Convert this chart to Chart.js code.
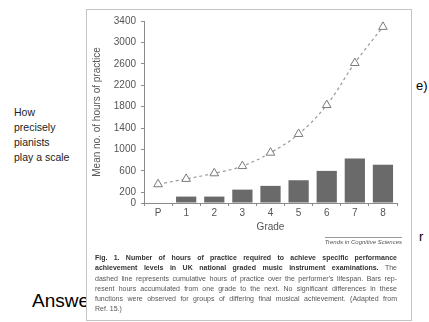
<!DOCTYPE html>
<html lang="en">
<head>
<meta charset="UTF-8">
<title>Practice hours</title>
<script src="https://cdn.jsdelivr.net/npm/chart.js"></script>
<style>
    body { margin: 0; width: 429px; height: 322px; overflow: hidden; background: #fff; font-family: "Liberation Sans", Arial, sans-serif; position: relative; }
    .side { position: absolute; left: 14px; top: 105px; font-size: 10.5px; line-height: 15px; color: #222; }
    .ans { position: absolute; left: 32px; top: 290px; font-size: 19px; color: #000; }
    .e { position: absolute; left: 416px; top: 78px; font-size: 13px; color: #000; }
    .r { position: absolute; left: 419px; top: 229px; font-size: 13px; color: #000; }
    .card { position: absolute; left: 86px; top: 9px; width: 326px; height: 312px; box-sizing: border-box; border: 1px solid #c4c4c4; background: #fff; }
    #grafico { position: absolute; left: 0; top: 0; }
    .journal { position: absolute; right: 9px; top: 227px; font-size: 6px; font-style: italic; color: #555; border-top: 1px solid #999; padding-top: 1px; }
    .caption { position: absolute; left: 8px; top: 243px; width: 302px; font-size: 7px; line-height: 10.3px; color: #555; }
    .caption div { white-space: nowrap; text-align: justify; text-align-last: justify; }
    .caption div.last { text-align-last: left; }
    .caption b { color: #333; }
</style>
</head>
<body>
    <div class="side">How<br>precisely<br>pianists<br>play a scale</div>
    <div class="ans">Answer</div>
    <div class="e">e)</div>
    <div class="r">r</div>

    <div class="card">
        <canvas id="grafico" width="324" height="230"></canvas>
        <div class="journal">Trends in Cognitive Sciences</div>
        <div class="caption">
            <div><b>Fig. 1. Number of hours of practice required to achieve specific performance</b></div>
            <div><b>achievement levels in UK national graded music instrument examinations.</b> The</div>
            <div>dashed line represents cumulative hours of practice over the performer's lifespan. Bars rep-</div>
            <div>resent hours accumulated from one grade to the next. No significant differences in these</div>
            <div>functions were observed for groups of differing final musical achievement. (Adapted from</div>
            <div class="last">Ref. 15.)</div>
        </div>
    </div>

    <script>
        // dati
        const gradi = ["P", "1", "2", "3", "4", "5", "6", "7", "8"];
        const oreCumulative = [350, 450, 555, 690, 940, 1290, 1830, 2615, 3290];
        const oreTraGradi = [null, 120, 120, 250, 320, 425, 600, 830, 715];
        const tickY = [0, 200, 600, 1000, 1400, 1800, 2200, 2600, 3000, 3400];

        const grigio = "#8a8a8a";
        const fontTick = { family: "'Liberation Sans', Arial, sans-serif", size: 10 };

        const ctx = document.getElementById("grafico").getContext("2d");
        new Chart(ctx, {
            type: "bar",
            data: {
                labels: gradi,
                datasets: [{
                    type: "line",
                    data: oreCumulative,
                    borderColor: "#9a9a9a",
                    borderWidth: 1.2,
                    borderDash: [3, 3],
                    tension: 0.4,
                    pointStyle: "triangle",
                    pointRadius: 5,
                    pointBorderColor: "#7a7a7a",
                    pointBorderWidth: 1,
                    pointBackgroundColor: "#fff",
                    order: 0
                }, {
                    data: oreTraGradi,
                    backgroundColor: "#6a6a6a",
                    order: 1
                }]
            },
            options: {
                responsive: false,
                animation: false,
                layout: { padding: { top: 11, right: 14, left: 0, bottom: 0 } },
                plugins: { legend: { display: false }, tooltip: { enabled: false } },
                scales: {
                    x: {
                        afterFit: s => { s.height = 37; },
                        grid: { drawOnChartArea: false, tickLength: 3, color: grigio },
                        border: { color: grigio },
                        ticks: { color: "#555", font: fontTick, padding: 1 },
                        title: { display: true, text: "Grade", color: "#555", font: fontTick, padding: { top: 0, bottom: 7 } }
                    },
                    y: {
                        min: 0,
                        max: 3400,
                        afterFit: s => { s.width = 57; },
                        afterBuildTicks: s => { s.ticks = tickY.map(v => ({ value: v })); },
                        grid: { drawOnChartArea: false, tickLength: 3, color: grigio },
                        border: { color: grigio },
                        ticks: { color: "#555", font: fontTick, padding: 5, callback: v => String(v) },
                        title: { display: true, text: "Mean no. of hours of practice", color: "#555", font: fontTick }
                    }
                }
            }
        });
    </script>
</body>
</html>
